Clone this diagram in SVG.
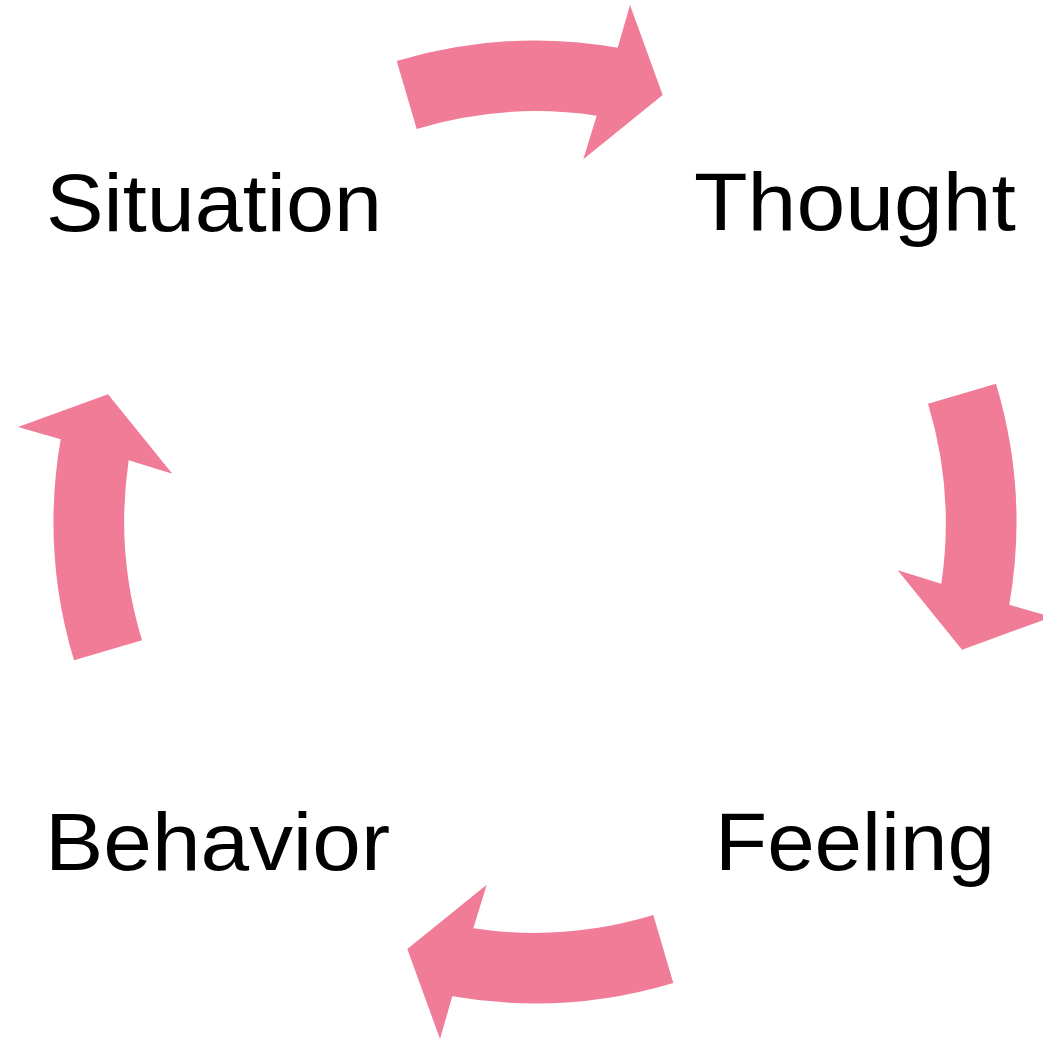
<svg xmlns="http://www.w3.org/2000/svg" width="1043" height="1039" viewBox="0 0 1043 1039">
<style>
.arrow{fill:#F07C98;}
.label{font-family:"Liberation Sans",Arial,sans-serif;font-size:81px;fill:#000;}
</style>
<defs>
<path id="arc" d="M-138.3,-461 A481.4,481.4 0 0 1 82.7,-474.3 L95,-517 L127.7,-427 L48.3,-362.7 L61.7,-406.3 A410.7,410.7 0 0 0 -118.3,-393 Z"/>
</defs>
<rect width="1043" height="1039" fill="#fff"/>
<g id="connectors" class="arrow" transform="translate(535,522)">
<use href="#arc"/>
<use href="#arc" transform="rotate(90)"/>
<use href="#arc" transform="rotate(180)"/>
<use href="#arc" transform="rotate(270)"/>
</g>
<g id="situation"><text class="label" x="46" y="231" textLength="336" lengthAdjust="spacingAndGlyphs">Situation</text></g>
<g id="thought"><text class="label" x="694" y="230" textLength="322" lengthAdjust="spacingAndGlyphs">Thought</text></g>
<g id="feeling"><text class="label" x="715" y="870" textLength="280" lengthAdjust="spacingAndGlyphs">Feeling</text></g>
<g id="behavior"><text class="label" x="45" y="870" textLength="345" lengthAdjust="spacingAndGlyphs">Behavior</text></g>
</svg>
